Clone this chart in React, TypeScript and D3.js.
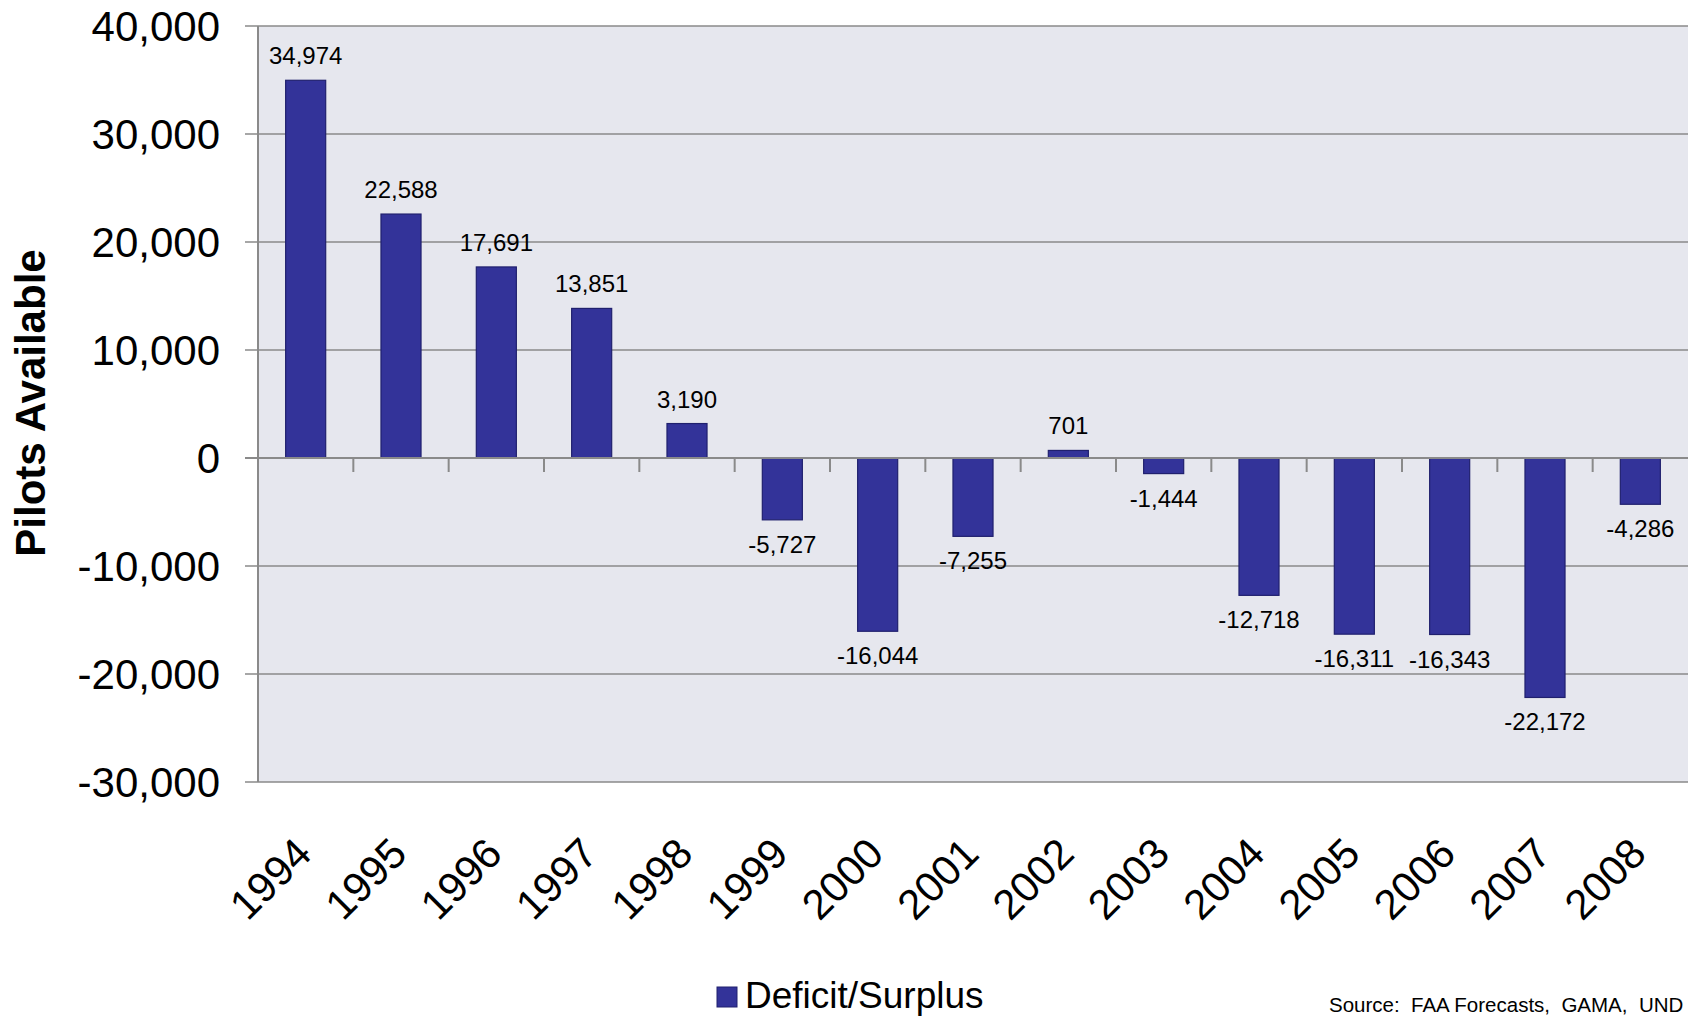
import React from "react";
import * as d3 from "d3";

// Pilot supply: yearly deficit / surplus
const years = ["1994", "1995", "1996", "1997", "1998", "1999", "2000", "2001", "2002", "2003", "2004", "2005", "2006", "2007", "2008"];
const deficitSurplus = [34974, 22588, 17691, 13851, 3190, -5727, -16044, -7255, 701, -1444, -12718, -16311, -16343, -22172, -4286];
const yTicks = [40000, 30000, 20000, 10000, 0, -10000, -20000, -30000];

const W = 1688;
const H = 1016;
const FONT = "'Liberation Sans', Arial, Helvetica, sans-serif";
const BAR = "#333399";
const BAR_EDGE = "#20206e";
const GRID = "#8a8a8a";
const PLOT_BG = "#e6e7ee";

const plot = { left: 258, right: 1688, top: 26, bottom: 782 };

// thousands separator with a plain hyphen for negatives
const fmtComma = d3.format(",");
const fmt = (v: number) => fmtComma(v).replace("\u2212", "-");

export default function App() {
  const x = d3
    .scaleBand<string>()
    .domain(years)
    .range([plot.left, plot.right])
    .paddingInner(0.58)
    .paddingOuter(0.29);
  const step = x.step();
  const y = d3.scaleLinear().domain([-30000, 40000]).range([plot.bottom, plot.top]);
  const y0 = y(0);

  return (
    <svg
      width={W}
      height={H}
      style={{ position: "absolute", left: 0, top: 0, background: "#fff" }}
      fontFamily={FONT}
    >
      {/* plot background */}
      <rect x={plot.left} y={plot.top} width={plot.right - plot.left} height={plot.bottom - plot.top} fill={PLOT_BG} />

      {/* horizontal gridlines and y ticks */}
      {yTicks.map((t) => (
        <g key={t}>
          {t !== 0 && (
            <line x1={plot.left - 13} x2={plot.right} y1={y(t)} y2={y(t)} stroke={GRID} strokeWidth={1.5} />
          )}
          <text x={220} y={y(t)} dy={15} textAnchor="end" fontSize={42} fill="#000">
            {fmt(t)}
          </text>
        </g>
      ))}

      {/* value axis line */}
      <line x1={plot.left} x2={plot.left} y1={plot.top} y2={plot.bottom} stroke={GRID} strokeWidth={2} />

      {/* bars */}
      {years.map((yr, i) => {
        const v = deficitSurplus[i];
        const top = Math.min(y(v), y0);
        const h = Math.abs(y(v) - y0);
        return (
          <rect
            key={yr}
            x={x(yr)!}
            y={top}
            width={x.bandwidth()}
            height={h}
            fill={BAR}
            stroke={BAR_EDGE}
            strokeWidth={1.2}
          />
        );
      })}

      {/* category axis at zero with boundary ticks */}
      <line x1={plot.left - 13} x2={plot.right} y1={y0} y2={y0} stroke={GRID} strokeWidth={2.2} />
      {years.slice(0, -1).map((yr, i) => {
        const bx = plot.left + (i + 1) * step;
        return <line key={"tk" + yr} x1={bx} x2={bx} y1={y0} y2={y0 + 14} stroke={GRID} strokeWidth={2} />;
      })}

      {/* value labels */}
      {years.map((yr, i) => {
        const v = deficitSurplus[i];
        const cx = x(yr)! + x.bandwidth() / 2;
        const ly = v >= 0 ? y(v) - 16 : y(v) + 33;
        return (
          <text key={"lb" + yr} x={cx} y={ly} textAnchor="middle" fontSize={24} fill="#000">
            {fmt(v)}
          </text>
        );
      })}

      {/* rotated year labels */}
      {years.map((yr) => {
        const cx = x(yr)! + x.bandwidth() / 2 + 8;
        return (
          <text
            key={"yr" + yr}
            transform={`translate(${cx},${856}) rotate(-45)`}
            textAnchor="end"
            fontSize={42}
            fill="#000"
          >
            {yr}
          </text>
        );
      })}

      {/* axis title */}
      <text
        transform={`translate(45,403) rotate(-90)`}
        textAnchor="middle"
        fontSize={42}
        fontWeight="bold"
        fill="#000"
      >
        Pilots Available
      </text>

      {/* legend */}
      <rect x={717} y={987} width={20} height={20} fill={BAR} stroke={BAR_EDGE} strokeWidth={1} />
      <text x={745} y={1008} fontSize={37} fill="#000">
        Deficit/Surplus
      </text>

      {/* source note */}
      <text x={1329} y={1012} fontSize={20.5} fill="#000" style={{ whiteSpace: "pre" }}>
        {"Source:  FAA Forecasts,  GAMA,  UND"}
      </text>
    </svg>
  );
}
